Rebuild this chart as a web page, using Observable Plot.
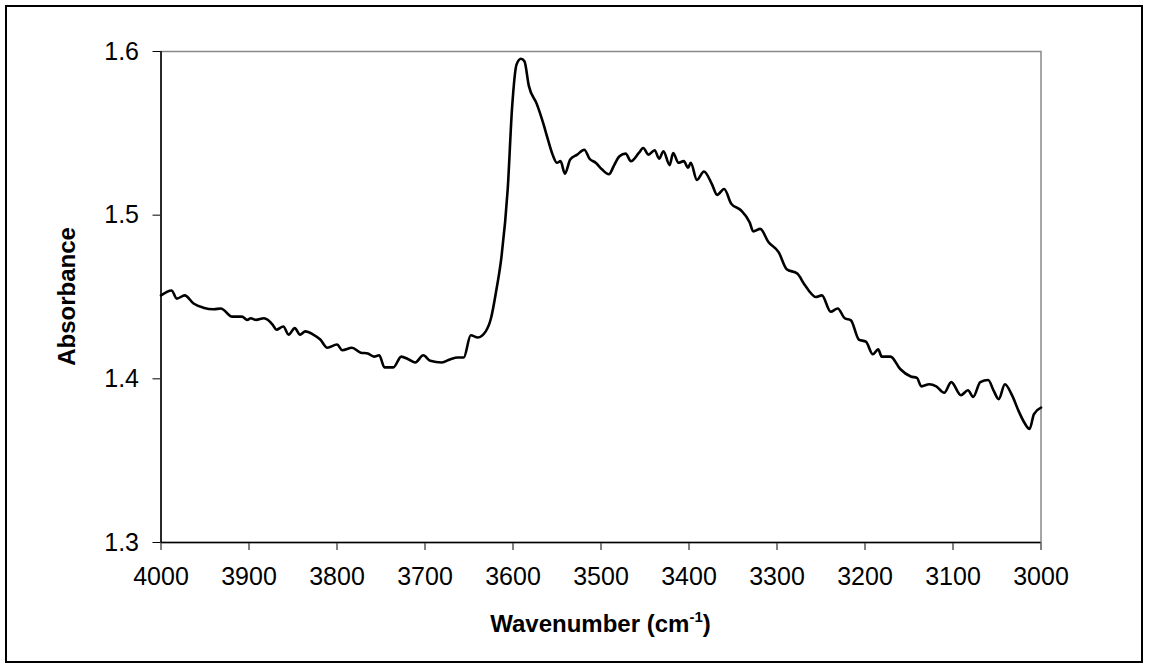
<!DOCTYPE html>
<html>
<head>
<meta charset="utf-8">
<script src="https://cdn.jsdelivr.net/npm/d3@7"></script>
<script src="https://cdn.jsdelivr.net/npm/@observablehq/plot@0.6"></script>
<style>
  html, body { margin: 0; padding: 0; background: #fff; }
  #chart svg { display: block; }
</style>
</head>
<body>
<div id="chart"></div>
<script>
const wavenumber = [4000,3988,3982,3973,3963,3952,3940,3932,3919,3908,3902,3898,3892,3883,3873,3869,3861,3855,3848,3842,3836,3827,3819,3811,3800,3794,3783,3773,3765,3758,3752,3746,3736,3727,3719,3711,3702,3694,3681,3671,3663,3656,3648,3640,3631,3625,3619,3613,3606,3601,3596,3591,3587,3582,3573,3565,3561,3555,3550,3546,3541,3535,3527,3519,3513,3506,3499,3491,3485,3479,3472,3466,3457,3452,3446,3439,3434,3429,3422,3418,3412,3406,3401,3398,3391,3383,3374,3368,3360,3352,3341,3331,3327,3319,3310,3298,3289,3277,3269,3264,3256,3249,3239,3231,3223,3216,3207,3199,3191,3185,3181,3171,3160,3148,3141,3136,3127,3119,3110,3102,3091,3083,3077,3069,3060,3054,3048,3041,3033,3025,3019,3013,3008,3000];
const absorbance = [1.451,1.454,1.449,1.451,1.446,1.4435,1.4425,1.443,1.438,1.438,1.436,1.437,1.436,1.437,1.433,1.430,1.432,1.427,1.431,1.427,1.429,1.427,1.424,1.419,1.421,1.4175,1.419,1.416,1.4155,1.4136,1.4144,1.407,1.407,1.4136,1.412,1.410,1.4144,1.411,1.410,1.412,1.413,1.413,1.4266,1.4253,1.429,1.437,1.454,1.475,1.516,1.566,1.592,1.5956,1.594,1.579,1.568,1.555,1.5475,1.537,1.532,1.533,1.5254,1.534,1.537,1.540,1.5345,1.532,1.528,1.525,1.5306,1.536,1.5376,1.533,1.538,1.541,1.537,1.5397,1.5345,1.539,1.5306,1.538,1.532,1.533,1.529,1.532,1.5215,1.5267,1.519,1.5124,1.516,1.507,1.503,1.4955,1.490,1.4916,1.4838,1.4773,1.467,1.4643,1.4578,1.454,1.450,1.451,1.441,1.443,1.437,1.4357,1.424,1.4227,1.415,1.418,1.4136,1.4136,1.406,1.4014,1.4006,1.3954,1.3967,1.3954,1.3915,1.398,1.390,1.393,1.389,1.398,1.3993,1.393,1.3876,1.3967,1.390,1.3798,1.3733,1.3694,1.3785,1.3824];
const xTicks = [4000,3900,3800,3700,3600,3500,3400,3300,3200,3100,3000];
const yTicks = [1.3,1.4,1.5,1.6];
const xTitle = "Wavenumber (cm";
const xTitleSup = "-1";
const xTitleEnd = ")";
const yTitle = "Absorbance";

const data = wavenumber.map((w, i) => ({w, a: absorbance[i]}));

const W = 1152, H = 668;
const chart = Plot.plot({
  width: W,
  height: H,
  marginLeft: 160.5,
  marginRight: 111.5,
  marginTop: 51,
  marginBottom: 126,
  style: {fontFamily: "Arial, 'Liberation Sans', sans-serif", fontSize: "25px", color: "#000", background: "#fff"},
  x: {domain: [4000, 3000], ticks: xTicks, tickFormat: d => String(d), tickSize: 8, tickPadding: 17, label: null},
  y: {domain: [1.3, 1.6], ticks: yTicks, tickFormat: d3.format(".1f"), tickSize: 8, tickPadding: 14, label: null},
  marks: [
    Plot.frame({stroke: "#888", strokeWidth: 1.5}),
    Plot.ruleX([4000], {stroke: "#000", strokeWidth: 1.5}),
    Plot.ruleY([1.3], {stroke: "#000", strokeWidth: 1.5}),
    Plot.line(data, {x: "w", y: "a", stroke: "#000", strokeWidth: 2.6, curve: "monotone-x", strokeLinejoin: "round"})
  ]
});

const svg = d3.select(chart);
svg.selectAll("[aria-label='x-axis tick'], [aria-label='y-axis tick']").attr("stroke", "#000");

// outer border
svg.insert("rect", ":first-child")
  .attr("x", 6).attr("y", 6).attr("width", 1136).attr("height", 656)
  .attr("fill", "#fff").attr("stroke", "#000").attr("stroke-width", 2);

// x title with superscript
const xt = svg.append("text")
  .attr("x", 600.5).attr("y", 632)
  .attr("text-anchor", "middle")
  .attr("font-family", "Arial, 'Liberation Sans', sans-serif")
  .attr("font-size", 24).attr("font-weight", "bold").attr("fill", "#000");
xt.append("tspan").text(xTitle);
xt.append("tspan").attr("font-size", 15).attr("dy", -10).text(xTitleSup);
xt.append("tspan").attr("dy", 10).text(xTitleEnd);

// y title
svg.append("text")
  .attr("transform", "translate(75,296.5) rotate(-90)")
  .attr("text-anchor", "middle")
  .attr("font-family", "Arial, 'Liberation Sans', sans-serif")
  .attr("font-size", 24).attr("font-weight", "bold").attr("fill", "#000")
  .text(yTitle);

document.getElementById("chart").appendChild(chart);
</script>
</body>
</html>
